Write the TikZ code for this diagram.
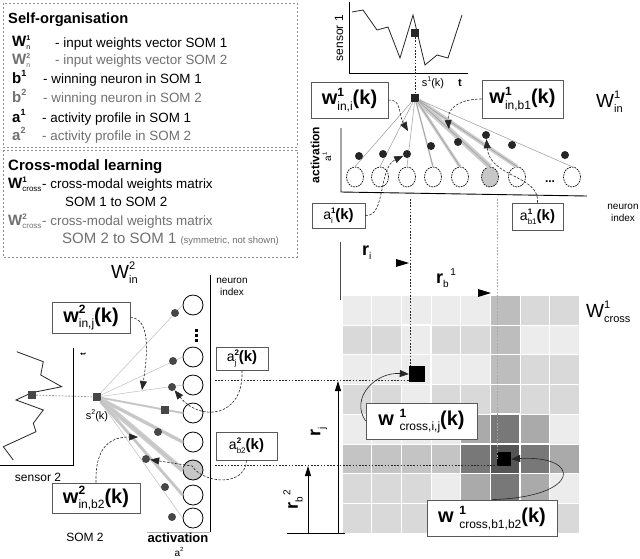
\documentclass[tikz,border=0pt]{standalone}
\usepackage{fontspec}
\setmainfont{Liberation Sans}
\usetikzlibrary{arrows.meta,shapes.geometric}
\definecolor{lgray}{HTML}{707070}
\definecolor{cE}{HTML}{ECECEC}
\definecolor{cD}{HTML}{D9D9D9}
\definecolor{cC}{HTML}{C4C4C4}
\definecolor{cB}{HTML}{BDBDBD}
\definecolor{cA}{HTML}{AAAAAA}
\definecolor{cM}{HTML}{787878}
\definecolor{cK}{HTML}{555555}
\newcommand\SupSub[3]{\rlap{\raisebox{0.8ex}{\fontsize{#1}{#1}\selectfont #2}}\raisebox{-0.5ex}{\fontsize{#1}{#1}\selectfont\mdseries #3}}
\newcommand\LgSupSub[3]{\rlap{\raisebox{0.65ex}{\fontsize{#1}{#1}\selectfont #2}}\raisebox{-0.4ex}{\fontsize{#1}{#1}\selectfont\mdseries #3}}
\newcommand\Sup[2]{\raisebox{0.8ex}{\fontsize{#1}{#1}\selectfont #2}}
\newcommand\Sub[2]{\raisebox{-0.5ex}{\fontsize{#1}{#1}\selectfont #2}}
\newcommand\SmA{{\mdseries\fontsize{14}{14}\selectfont a}}
\begin{document}
\begin{tikzpicture}[x=1pt,y=-1pt,
  every node/.style={inner sep=0pt},
  lg/.style={anchor=base west, font=\fontsize{13.4}{14}\selectfont},
  lgsym/.style={anchor=base west, font=\fontsize{15}{16}\selectfont\bfseries},
  gr/.style={text=lgray},
  bx/.style={draw=black!65, fill=white, line width=0.8pt},
  bigtxt/.style={font=\fontsize{20}{21}\selectfont\bfseries},
  smtxt/.style={font=\fontsize{15}{16}\selectfont\bfseries},
  dot/.style={circle, fill=black!85, minimum size=8pt},
  dotb/.style={circle, fill=black!72, minimum size=8pt},
  sq/.style={rectangle, fill=black!85, minimum size=8pt},
  neur/.style={ellipse, draw=black, dash pattern=on 1.6pt off 1pt, line width=0.7pt, minimum width=17pt, minimum height=20pt},
  neurb/.style={circle, draw=black, line width=0.8pt, minimum size=20pt},
  conn/.style={draw=black!85, line width=0.6pt, dash pattern=on 2.5pt off 1.5pt, -{Triangle[length=9pt,width=7pt]}},
  sconn/.style={draw=black!85, line width=0.6pt, -{Triangle[length=9pt,width=7pt]}},
  ddot/.style={draw=black!85, line width=1pt, dash pattern=on 1.6pt off 1.6pt},
  ldot/.style={draw=black!35, line width=0.9pt, dash pattern=on 1.6pt off 1.6pt},
  wline/.style={draw=black!40, line width=0.5pt},
  wthick/.style={draw=black!20, line width=#1},
  axis/.style={draw=black, line width=0.9pt},
]
\useasboundingbox (0,0) rectangle (640,558);
\fill[white] (0,0) rectangle (640,558);

% ---------- legend ----------
\draw[draw=black!45, dash pattern=on 2pt off 2pt, line width=0.8pt] (3,3) rectangle (297,147);
\draw[draw=black!45, dash pattern=on 2pt off 2pt, line width=0.8pt] (3,150) rectangle (297,257);
\node[lgsym] (h1) at (8,23) {\fontsize{14.7}{16}\selectfont Self-organisation};
\node[lgsym] (s1) at (12,46) {W\LgSupSub{7}{1}{n}};
\node[lg] (t1) at (55,47) {- input weights vector SOM 1};
\node[lgsym,gr] (s2) at (12,64) {W\LgSupSub{7}{2}{n}};
\node[lg,gr] (t2) at (55,64) {- input weights vector SOM 2};
\node[lgsym] (s3) at (12,83) {b\Sup{9}{1}};
\node[lg] (t3) at (43,83) {- winning neuron in SOM 1};
\node[lgsym,gr] (s4) at (12,102) {b\Sup{9}{2}};
\node[lg,gr] (t4) at (43,102) {- winning neuron in SOM 2};
\node[lgsym] (s5) at (12,122) {a\Sup{9}{1}};
\node[lg] (t5) at (42,122) {- activity profile in SOM 1};
\node[lgsym,gr] (s6) at (12,140) {a\Sup{9}{2}};
\node[lg,gr] (t6) at (42,140) {- activity profile in SOM 2};
\node[lgsym] (h2) at (8,170) {Cross-modal learning};
\node[lgsym] (s7) at (8,188) {W\LgSupSub{8}{1}{cross}};
\node[lg] (t7) at (42,188) {- cross-modal weights matrix};
\node[lg] (t8) at (65,206) {SOM 1 to SOM 2};
\node[lgsym,gr] (s9) at (8,225) {W\LgSupSub{8}{2}{cross}};
\node[lg,gr] (t9) at (42,225) {- cross-modal weights matrix};
\node[lg,gr] (t10) at (62,243) {\fontsize{15}{16}\selectfont SOM 2 to SOM 1 {\fontsize{9.5}{10}\selectfont (symmetric, not shown)}};

% ---------- sensor 1 ----------
\draw[axis] (349,2) -- (349,73) -- (468,73);
\draw[black!85, line width=0.8pt] (352,12) -- (363,10) -- (377,30) -- (388,27) -- (400,58) -- (413,15) -- (425,65) -- (437,55) -- (448,58) -- (462,15);
\node[rotate=90, font=\fontsize{12}{12}\selectfont] (sen1) at (339,38) {sensor 1};
\node[sq] (ss1) at (415,33) {};
\node[sq] (src1) at (415,98) {};
\draw[ddot] (ss1) -- (src1);
\node[font=\fontsize{11}{11}\selectfont] (s1k) at (433,83) {s\Sup{7}{1}(k)};
\node[font=\fontsize{11}{11}\selectfont\bfseries] (tl1) at (460,83) {t};

% ---------- SOM 1 ----------
\draw[axis] (341,128) -- (341,192) -- (587,196);
\node[rotate=90, font=\fontsize{12}{12}\selectfont\bfseries] (act1) at (315,155) {activation};
\node[rotate=90, font=\fontsize{10}{10}\selectfont] (a1l) at (327,157) {a\Sup{6}{1}};
\node[font=\fontsize{10}{12}\selectfont, align=center] (ni1) at (623,213) {neuron\\index};
\foreach \i/\x in {1/355,2/380,3/407,4/433,5/460,7/517,8/572}
  \node[neur] (n\i) at (\x,177) {};
\node[neur, fill=black!22] (n6) at (490,177) {};
\node[font=\fontsize{12}{12}\selectfont\bfseries] (ell1) at (550,182) {...};
\draw[wthick=1.5pt] (src1) -- (n4.north);
\draw[wthick=3pt] (src1) -- (n5.north);
\draw[wthick=5pt] (src1) -- (n6.north);
\draw[wthick=4pt] (src1) -- (n7.north);
\foreach \i in {1,...,8} \draw[wline] (src1) -- (n\i.north);
\foreach \i/\x/\y in {1/359/156,2/383/154,3/407/154,4/431/146,5/458/142,6/486/135,7/512/145,8/565/155}
  \node[dot] (d\i) at (\x,\y) {};

\node[bx, minimum width=77pt, minimum height=36pt, bigtxt] (w1i) at (349.5,100) {w\SupSub{12}{1}{in,i}(k)};
\node[bx, minimum width=81pt, minimum height=38pt, bigtxt] (w1b) at (522.5,99) {w\SupSub{12}{1}{in,b1}(k)};
\node[bx, minimum width=53pt, minimum height=25pt, smtxt] (a1i) at (338.5,215.5) {\SmA\SupSub{8}{1}{i}\,(k)};
\node[bx, minimum width=51pt, minimum height=27pt, smtxt] (a1b) at (537.5,216.5) {\SmA\SupSub{8}{1}{b1}(k)};
\node[font=\fontsize{19}{20}\selectfont, anchor=base west] (W1in) at (596,107) {W\SupSub{11}{1}{in}};

\coordinate (t_a) at (408,131);
\coordinate (t_b) at (449,129);
\draw[conn] (w1i.east) .. controls (402,99) and (398,114) .. (t_a);
\draw[conn] (w1b.west) .. controls (460,99) and (447,108) .. (t_b);
\draw[conn] (a1i.east) .. controls (386,217) and (378,168) .. (d3);
\draw[conn] (a1b.north) .. controls (540,175) and (490,178) .. (d6);

% ---------- cross-modal matrix ----------
\foreach \r/\lst in {0/{E,E,E,E,E,B,D,D},1/{D,D,E,D,D,B,E,E},2/{E,E,E,E,E,B,D,D},3/{D,D,E,D,D,B,D,D},4/{E,E,E,E,A,M,A,E},5/{C,C,C,C,M,K,M,A},6/{D,D,D,E,A,M,A,E},7/{D,D,D,D,D,B,D,D}}{
  \foreach \c [count=\k from 0] in \lst {
    \fill[c\c, draw=white, line width=0.4pt] ({342+\k*29.625},{295+\r*29.75}) rectangle ++(29.625,29.75);
  }
}
\foreach \k/\r in {2/1,1/2,3/2,2/3,2/2,5/4,4/5,6/5,5/6,5/5}
  \draw[white, line width=1.1pt] ({342+\k*29.625},{295+\r*29.75}) rectangle ++(29.625,29.75);
\node[font=\fontsize{19}{20}\selectfont, anchor=base west] (W1c) at (586,317) {W\SupSub{11}{1}{cross}};

\node[rectangle, fill=black, minimum size=16pt] (m1) at (417,374) {};
\node[rectangle, fill=black, minimum size=14pt] (m2) at (504,459) {};

\coordinate (vi) at (410,199);
\coordinate (vb) at (497,199);
\coordinate (hj) at (215,380);
\coordinate (hb) at (215,465);
\draw[ddot] (vi) -- (vi |- m1.north);
\draw[ldot] (vb) -- (vb |- m2.center);
\draw[ddot] (hj) -- (hj -| m1.west);
\draw[ddot] (hb) -- (hb -| vb);

\draw[draw=black!70, line width=1pt] (340,242) -- (340,300);
\fill (396,259) -- (409,263) -- (396,267) -- cycle;
\fill (478,289) -- (491,293) -- (478,297) -- cycle;
\node[font=\fontsize{18}{18}\selectfont\bfseries, anchor=base west] (ri) at (362,255) {r\Sub{10}{\mdseries i}};
\node[font=\fontsize{18}{18}\selectfont\bfseries, anchor=base west] (rb1) at (436,283) {r\Sub{10}{\mdseries b}\Sup{10}{\mdseries\,1}};

\draw[axis] (287,533) -- (345,533);
\draw[axis, -{Triangle[length=10pt,width=6pt]}] (338,533) -- (338,381);
\draw[axis, -{Triangle[length=10pt,width=6pt]}] (308,533) -- (308,466);
\node[rotate=90, font=\fontsize{18}{18}\selectfont\bfseries] (rj) at (319,432) {r\Sub{10}{\mdseries j}};
\node[rotate=90, font=\fontsize{18}{18}\selectfont\bfseries] (rb2) at (293,500) {r\Sub{10}{\mdseries b}\Sup{10}{\mdseries\,2}};

\node[bx, minimum width=111pt, minimum height=36pt, bigtxt] (wcij) at (421.5,421) {w\ \SupSub{12}{1}{cross,i,j}(k)};
\node[bx, minimum width=130pt, minimum height=36pt, bigtxt] (wcbb) at (492,518) {w\ \SupSub{12}{1}{cross,b1,b2}(k)};
\draw[sconn] (wcij.west) .. controls (350,398) and (375,372) .. (m1.west);
\draw[sconn] (wcbb.north) .. controls (582,497) and (582,455) .. (m2.east);

% ---------- sensor 2 ----------
\draw[axis] (73,348) -- (73,465) -- (0,465);
\draw[black!85, line width=0.8pt] (16.7,351.7) -- (43.3,361.7) -- (40.7,375) -- (61.7,386.7) -- (31.7,392.7) -- (16,400) -- (43.3,410) -- (33.3,423.3) -- (36,431.7) -- (3.3,446.7) -- (13.3,460);
\node[sq, fill=black!72] (ss2) at (32,395) {};
\node[sq, fill=black!72] (src2) at (97,397) {};
\draw[ldot, draw=black!40] (ss2) -- (src2);
\node[rotate=90, font=\fontsize{8}{8}\selectfont\bfseries] (tl2) at (83,354) {t};
\node[font=\fontsize{12}{12}\selectfont] (sen2) at (38,477) {sensor 2};
\node[font=\fontsize{11}{11}\selectfont] (s2k) at (97,416) {s\Sup{7}{2}(k)};
\node[font=\fontsize{12}{12}\selectfont] (som2) at (85,537) {SOM 2};
\node[font=\fontsize{19}{20}\selectfont, anchor=base west] (W2in) at (111,278) {W\SupSub{11}{2}{in}};

% ---------- SOM 2 ----------
\draw[axis] (210,275) -- (210,532);
\draw[draw=black!30, line width=0.8pt] (147,532) -- (210,532);
\node[font=\fontsize{13}{13}\selectfont\bfseries] (act2) at (178,538) {activation};
\node[font=\fontsize{10}{10}\selectfont] (a2l) at (179,552) {a\Sup{6}{2}};
\node[font=\fontsize{10}{12}\selectfont, align=center] (ni2) at (232,287) {neuron\\index};
\foreach \i/\y in {1/305,2/357,3/385,4/413,5/442,7/495,8/518}
  \node[neurb] (m\i) at (193,\y) {};
\node[neurb, fill=black!22] (m6) at (193,470) {};
\foreach \yy in {329,334,339} \fill (195,\yy) rectangle ++(2.6,2.6);
\draw[wthick=2pt] (src2) -- (m4.west);
\draw[wthick=3.5pt] (src2) -- (m5.west);
\draw[wthick=5pt] (src2) -- (m6.west);
\draw[wthick=3pt] (src2) -- (m7.west);
\foreach \i in {1,...,8} \draw[wline, draw=black!25] (src2) -- (m\i.west);
\foreach \i/\x/\y in {1/175/313,2/173/361,3/172/387,5/158/432,6/146/459,7/165/487,8/172/517}
  \node[dotb] (e\i) at (\x,\y) {};
\node[sq, fill=black!72] (e4) at (165,410) {};

\node[bx, minimum width=78pt, minimum height=31pt, bigtxt] (w2j) at (91,317.5) {w\SupSub{12}{2}{in,j}(k)};
\node[bx, minimum width=88pt, minimum height=30pt, bigtxt] (w2b) at (96,498) {w\SupSub{12}{2}{in,b2}(k)};
\node[bx, minimum width=52pt, minimum height=23pt, smtxt] (a2j) at (242,358.5) {\SmA\SupSub{8}{2}{j}\,(k)};
\node[bx, minimum width=61pt, minimum height=28pt, smtxt] (a2b) at (246.5,446) {\SmA\SupSub{8}{2}{b2}(k)};

\coordinate (t_c) at (142,390);
\coordinate (t_d) at (138,437);
\draw[conn] (w2j.east) .. controls (150,318) and (148,352) .. (t_c);
\draw[conn] (w2b.north) .. controls (95,445) and (112,437) .. (t_d);
\draw[conn] (a2j.south) .. controls (244,418) and (200,422) .. (e3);
\draw[conn] (a2b.south) .. controls (245,487) and (204,484) .. (192,466) -- (e6);
\end{tikzpicture}
\end{document}
